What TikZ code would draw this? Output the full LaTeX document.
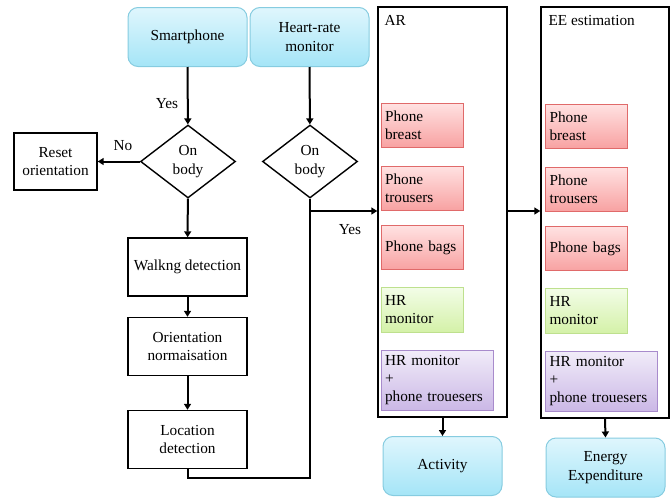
\documentclass[tikz,border=0pt]{standalone}
\usepackage{fontspec}
\setmainfont{Liberation Serif}
\usetikzlibrary{arrows.meta,shapes.geometric}

\definecolor{cyanT}{HTML}{DFF6FD}
\definecolor{cyanB}{HTML}{A5E5F7}
\definecolor{cyanD}{HTML}{86CCE0}
\definecolor{redT}{HTML}{FFE2E2}
\definecolor{redB}{HTML}{F8A2A2}
\definecolor{redD}{HTML}{E06A6A}
\definecolor{grnT}{HTML}{F3FDE8}
\definecolor{grnB}{HTML}{D4F1A8}
\definecolor{grnD}{HTML}{BEE08E}
\definecolor{purT}{HTML}{F1ECF9}
\definecolor{purB}{HTML}{CBB8E6}
\definecolor{purD}{HTML}{A88BCC}

\tikzset{
  txt/.style={font=\fontsize{15.3}{18.3}\selectfont},
  dev/.style={txt,draw=cyanD,line width=1pt,rounded corners=10pt,top color=cyanT,bottom color=cyanB,
    minimum width=119pt,minimum height=59pt,align=center},
  proc/.style={txt,draw,line width=1.4pt,minimum width=119pt,minimum height=58pt,align=center,inner sep=1pt},
  dec/.style={txt,draw,diamond,line width=1.4pt,minimum width=95pt,minimum height=73pt,inner sep=0pt,align=center},
  grp/.style={draw,line width=1.4pt,minimum width=129pt,minimum height=410pt},
  loc/.style={txt,line width=0.8pt,align=left,inner xsep=4pt,text width=74pt},
  red/.style={loc,draw=redD,top color=redT,bottom color=redB,minimum height=44pt},
  grn/.style={loc,draw=grnD,top color=grnT,bottom color=grnB,minimum height=45pt},
  pur/.style={loc,draw=purD,top color=purT,bottom color=purB,minimum height=60pt,text width=104pt},
  flow/.style={line width=2pt,-{Triangle[length=6pt,width=7pt]}},
}

\begin{document}
\begin{tikzpicture}[x=1pt,y=-1pt]
\useasboundingbox (0,0) rectangle (670,498);

\node[dev] (sp) at (187.5,37) {Smartphone};
\node[dev] (hr) at (309.5,37) {Heart-rate\\monitor};

\node[dec] (d1) at (188,161.5) {On\\body};
\node[dec] (d2) at (310,161.5) {On\\body};
\node[proc,minimum width=83pt,minimum height=57pt] (rst) at (55.5,161.5) {Reset\\orientation};

\node[proc] (walk) at (187.5,267) {Walkng detection};
\node[proc] (ori) at (187.5,346.5) {Orientation\\normaisation};
\node[proc] (loc) at (187.5,439.5) {Location\\detection};

\node[grp] (ar) at (442.5,212) {};
\node[grp,minimum width=128pt,minimum height=411pt] (ee) at (605,212.5) {};
\node[txt,anchor=base west] at (381,25) {AR};
\node[txt,anchor=base west] at (545,25) {EE estimation};

\node[red] (a1) at (422,125) {Phone\\breast};
\node[red] (a2) at (422,188) {Phone\\trousers};
\node[red] (a3) at (422,247.5) {Phone bags};
\node[grn] (a4) at (422,309.5) {HR\\monitor};
\node[pur] (a5) at (437,380) {HR monitor\\+\\phone trouesers};

\node[red] (e1) at (586.5,126) {Phone\\breast};
\node[red] (e2) at (586.5,189) {Phone\\trousers};
\node[red] (e3) at (586.5,248.5) {Phone bags};
\node[grn] (e4) at (586.5,310.5) {HR\\monitor};
\node[pur] (e5) at (601.5,381) {HR monitor\\+\\phone trouesers};

\node[dev] (act) at (442.5,466) {Activity};
\node[dev] (en) at (605.5,467.5) {Energy\\Expenditure};

\coordinate (j) at (310,211);

\draw[flow] (sp) -- (d1);
\draw[flow] (hr) -- (d2);
\draw[flow] (d1) -- (rst);
\draw[flow] (d1) -- (walk);
\draw[flow] (walk) -- (ori);
\draw[flow] (ori) -- (loc);
\draw[line width=2pt] (d2.south) -- (j);
\draw[line width=2pt] (loc.south) -- ++(0,9) -| (j);
\draw[flow] (j) -- (j -| ar.west);
\draw[flow] (ar.east |- j) -- (ee.west |- j);
\draw[flow] (ar.south) -- (act.north);
\draw[flow] (ee.south) -- (en.north);

\node[txt] at (167,104) {Yes};
\node[txt] at (123,146) {No};
\node[txt] at (350,230) {Yes};

\end{tikzpicture}
\end{document}
